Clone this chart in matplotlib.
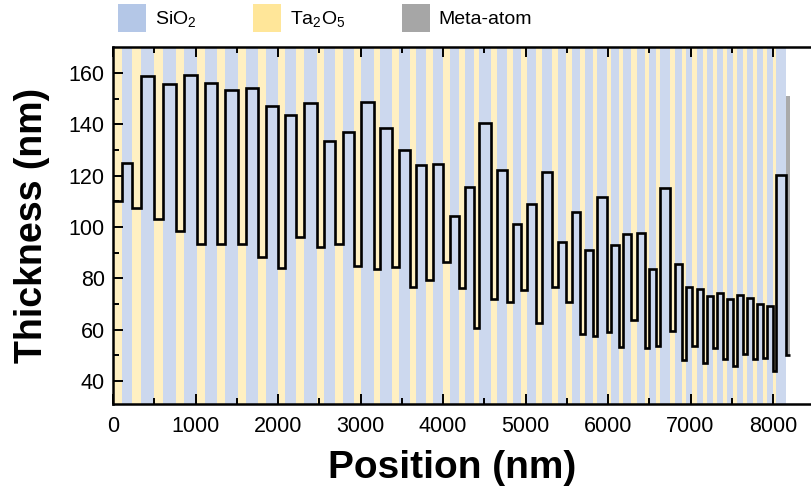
import numpy as np
import matplotlib
matplotlib.use("Agg")
import matplotlib.pyplot as plt
from matplotlib.patches import Patch, Rectangle

plt.rcParams["font.family"] = ["Liberation Sans", "DejaVu Sans"]
plt.rcParams["mathtext.fontset"] = "custom"
plt.rcParams["mathtext.rm"] = "Liberation Sans"
plt.rcParams["mathtext.default"] = "regular"

# Layer thicknesses (nm), deposited alternately: Ta2O5, SiO2, Ta2O5, SiO2, ...
ta2o5_nm = [110.3, 107.3, 103.0, 98.4, 93.2, 93.4, 93.4, 88.4, 84.1, 96.2,
            92.3, 93.2, 84.9, 83.6, 84.5, 76.4, 79.3, 86.2, 76.3, 60.7,
            71.8, 70.8, 75.4, 62.6, 76.4, 70.6, 58.1, 57.5, 59.1, 53.2,
            63.9, 52.9, 53.6, 59.4, 48.0, 53.5, 47.1, 53.0, 48.7, 45.7,
            50.4, 48.4, 48.9, 43.9]
sio2_nm = [124.9, 158.7, 155.7, 159.1, 155.9, 153.2, 154.2, 147.1, 143.8, 148.4,
           133.6, 137.0, 148.6, 138.5, 129.8, 124.2, 124.5, 104.4, 115.4, 140.4,
           122.0, 101.0, 109.1, 121.4, 94.2, 105.7, 91.0, 111.8, 93.0, 97.3,
           97.5, 83.6, 115.1, 85.5, 76.4, 76.0, 73.0, 74.1, 72.0, 73.6,
           72.5, 69.9, 69.1, 120.3]
meta_atom_nm = 50.0        # thickness of the meta-atom layer on top of the stack
meta_atom_top_nm = 151.0   # upper extent of the meta-atom block

materials = ["SiO$_2$", "Ta$_2$O$_5$", "Meta-atom"]
xticks = [0, 1000, 2000, 3000, 4000, 5000, 6000, 7000, 8000]
yticks = [40, 60, 80, 100, 120, 140, 160]

swatch = {"SiO$_2$": "#B4C7E7", "Ta$_2$O$_5$": "#FFE699", "Meta-atom": "#A6A6A6"}
band = {"SiO$_2$": "#CCD8EE", "Ta$_2$O$_5$": "#FFF0C2"}

# interleave the two materials into the stack order
thick = []
kind = []
for t, s in zip(ta2o5_nm, sio2_nm):
    thick += [t, s]
    kind += ["Ta$_2$O$_5$", "SiO$_2$"]
thick = np.array(thick)
edges = np.concatenate([[0.0], np.cumsum(thick)])
stack_end = edges[-1]

fig = plt.figure(figsize=(8.11, 4.91), dpi=100)
ax = fig.add_axes([113 / 811, 87 / 491, 8500 * 0.0825 / 811, (404 - 47.3) / 491])

for x0, w, k in zip(edges[:-1], thick, kind):
    ax.axvspan(x0, x0 + w, color=band[k], lw=0, zorder=0.5)

ax.add_patch(Rectangle((stack_end, meta_atom_nm), meta_atom_nm,
                       meta_atom_top_nm - meta_atom_nm,
                       facecolor="#AAAAAA", edgecolor="none", zorder=0.6))

step_vals = np.append(thick, meta_atom_nm)
step_edges = np.append(edges, stack_end + meta_atom_nm)
ax.stairs(step_vals, step_edges, baseline=None, color="black", lw=1.9, zorder=3)

ax.set_xlim(0, 8500)
ax.set_ylim(31, 170)
ax.set_xticks(xticks)
ax.set_xticks(np.arange(500, 8500, 1000), minor=True)
ax.set_yticks(yticks)
ax.set_yticks(np.arange(50, 170, 20), minor=True)
ax.tick_params(which="both", direction="in", top=True, right=False,
               labelsize=15.5, width=1.4)
ax.tick_params(axis="x", pad=9)
ax.tick_params(axis="y", pad=6)
ax.tick_params(which="major", length=7.5)
ax.tick_params(which="minor", length=4.5)
for side in ["left", "bottom", "top"]:
    ax.spines[side].set_linewidth(1.8)
ax.spines["right"].set_visible(False)

ax.set_xlabel("Position (nm)", fontsize=28, fontweight="bold")
ax.xaxis.set_label_coords((452 - 113) / (8500 * 0.0825), -(468 - 404) / (404 - 47.3))
ax.xaxis.label.set_verticalalignment("center")
ax.set_ylabel("Thickness (nm)", fontsize=27, fontweight="bold", labelpad=13)

handles = [Patch(facecolor=swatch[m], edgecolor="none", label=m) for m in materials]
fig.legend(handles=handles, loc="upper left", bbox_to_anchor=(118 / 811, 1 - 4 / 491),
           ncol=3, frameon=False, fontsize=14, handlelength=1.45, handleheight=1.8,
           handletextpad=0.45, columnspacing=2.9, borderpad=0, borderaxespad=0)

fig.savefig("out.png", dpi=100)
